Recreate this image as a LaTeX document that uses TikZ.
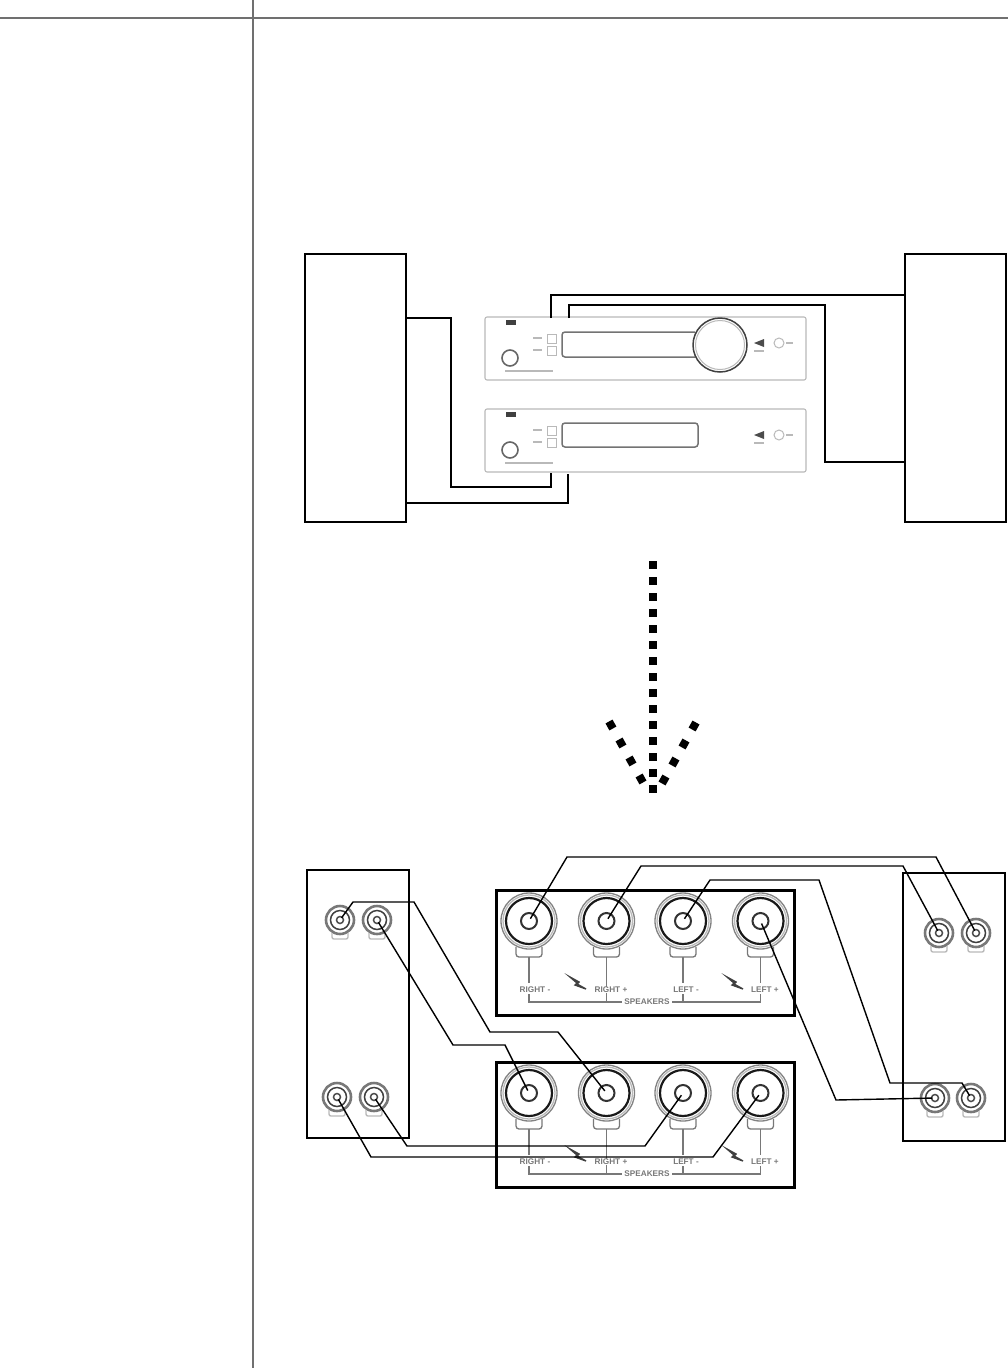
\documentclass[tikz,border=0pt]{standalone}
\usepackage{fontspec}
\setmainfont{Liberation Sans}
\usepackage{xcolor}
\definecolor{frameGray}{RGB}{112, 112, 112}
\definecolor{panelGray}{RGB}{185, 185, 185}
\definecolor{markGray}{RGB}{120, 120, 120}
\tikzset{
  wire/.style={draw=black, line width=1.4pt, line join=miter},
  devbox/.style={draw=black, line width=1.8pt},
  termbox/.style={draw=black, line width=3.6pt},
  rulerline/.style={draw=frameGray, line width=2pt},
  dotline/.style={draw=black, line width=8pt},
  hole/.style={circle, inner sep=0pt, minimum size=5pt},
  marktext/.style={font=\bfseries\fontsize{8.2}{9}\selectfont, text=markGray, inner sep=0.5pt},
  strip/.style={draw=panelGray, line width=1.6pt},
  bigjack/.pic={
    \draw[panelGray!70!black, line width=1.3pt] (0,0) circle[radius=28];
    \draw[panelGray, line width=1.3pt] (0,0) circle[radius=26];
    \draw[black!90, line width=2.2pt] (0,0) circle[radius=23];
    \draw[black!80, line width=2pt] (0,0) circle[radius=8];
    \draw[markGray, line width=1.3pt, rounded corners=3pt] (-13,26) -- (-13,36) -- (13,36) -- (13,26);
    \node[hole] (-c) at (0,0) {};
  },
  smalljack/.pic={
    \draw[markGray, line width=2.6pt] (0,0) circle[radius=14];
    \draw[black!75, line width=1.5pt] (0,0) circle[radius=9.5];
    \draw[black!70, line width=1.5pt] (0,0) circle[radius=3.5];
    \draw[panelGray, line width=1.4pt, rounded corners=2pt] (-8,13) -- (-8,19) -- (8,19) -- (8,13);
    \node[hole] (-c) at (0,0) {};
  },
  bolt/.pic={
    \draw[black!75, line width=1.4pt, fill=black!75] (-8,-6) -- (1,-1) -- (-1,1) -- (8,6) -- (-3,2) -- (-1,0) -- cycle;
  },
  terminals/.pic={
    \pic (-ra) at (529,0) {bigjack};
    \pic (-rb) at (606.5,0) {bigjack};
    \pic (-la) at (683,0) {bigjack};
    \pic (-lb) at (760.5,0) {bigjack};
    \draw[markGray, line width=1.3pt] (529,36) -- (529,62) (606.5,36) -- (606.5,81) (683,36) -- (683,62) (760.5,36) -- (760.5,62);
    \draw[markGray, line width=1.3pt] (529,73) -- (529,81) -- (760.5,81) -- (760.5,73) (683,81) -- (683,73);
    \node[marktext] (-tra) at (535,69) {RIGHT -};
    \node[marktext, fill=white] (-trb) at (611,69) {RIGHT +};
    \node[marktext] (-tla) at (686,69) {LEFT -};
    \node[marktext] (-tlb) at (765,69) {LEFT +};
    \node[marktext, fill=white, inner xsep=2pt] (-spk) at (647,81) {SPEAKERS};
    \pic at (578,62) {bolt};
    \pic at (735,62) {bolt};
  },
  ampface/.pic={
    \draw[panelGray, line width=1.1pt, rounded corners=2pt] (485,0) rectangle (806,63);
    \draw[black!60, line width=1.6pt] (510,41) circle[radius=8];
    \fill[black!75] (506,3) rectangle (516,8);
    \draw[strip] (505,54) -- (553,54);
    \draw[strip] (533,21) -- (542,21) (533,33) -- (542,33);
    \draw[panelGray, line width=1pt] (547,17) rectangle (556,26) (547,29) rectangle (556,38);
    \fill[black!70] (754,26) -- (764,22) -- (764,30) -- cycle;
    \draw[panelGray, line width=1pt] (779,26) circle[radius=5];
    \draw[strip] (786,26) -- (793,26) (754,34) -- (764,34);
  }
}
\begin{document}
\begin{tikzpicture}[x=1pt, y=-1pt]
  \useasboundingbox (0,0) rectangle (1008,1368);
  % page rules
  \draw[rulerline] (0,18) -- (1008,18);
  \draw[rulerline] (253,0) -- (253,1368);

  % upper drawing
  \pic (ampa) at (0,317) {ampface};
  \pic (ampb) at (0,409) {ampface};
  \draw[black!55, line width=1.5pt, rounded corners=3pt] (695,332) -- (562,332) -- (562,357) -- (695,357);
  \draw[black!55, line width=1.5pt, rounded corners=3pt] (562,423) rectangle (698,447);
  \draw[black!75, line width=1.5pt, fill=white] (720,345) circle[radius=27];
  \draw[panelGray, line width=1pt] (720,345) circle[radius=24.5];
  \node[devbox, minimum width=101pt, minimum height=268pt, inner sep=0pt] (spkl) at (355.5,388) {};
  \node[devbox, minimum width=101pt, minimum height=268pt, inner sep=0pt] (spkr) at (955.5,388) {};
  \coordinate (aa) at (551,318);
  \coordinate (ab) at (569,318);
  \coordinate (ba) at (551,473);
  \coordinate (bb) at (568,474);
  \draw[wire] (aa) -- (551,295) -- (spkr.west |- 0,295);
  \draw[wire] (ab) -- (569,305) -- (825,305) -- (825,462) -- (spkr.west |- 0,462);
  \draw[wire] (spkl.east |- 0,318) -- (451,318) -- (451,487) -- (551,487) -- (ba);
  \draw[wire] (spkl.east |- 0,503) -- (568,503) -- (bb);

  % dotted arrow
  \coordinate (arrtop) at (653,561);
  \coordinate (arrtip) at (653,793);
  \coordinate (arrla) at (609,721.5);
  \coordinate (arrlb) at (643,782.5);
  \coordinate (arrra) at (696,722.5);
  \coordinate (arrrb) at (662,783.5);
  \draw[dotline, dash pattern=on 8pt off 8pt] (arrtop) -- (arrtip);
  \draw[dotline, dash pattern=on 8pt off 12.6pt] (arrla) -- (arrlb);
  \draw[dotline, dash pattern=on 8pt off 12.6pt] (arrra) -- (arrrb);

  % lower drawing
  \node[devbox, minimum width=102pt, minimum height=268pt, inner sep=0pt] (boxl) at (358,1004) {};
  \node[devbox, minimum width=102pt, minimum height=268pt, inner sep=0pt] (boxr) at (954,1007) {};
  \node[termbox, minimum width=298pt, minimum height=125pt, inner sep=0pt] (terma) at (645.5,953) {};
  \node[termbox, minimum width=298pt, minimum height=125pt, inner sep=0pt] (termb) at (645.5,1125) {};
  \pic (ta) at (0,921) {terminals};
  \pic (tb) at (0,1093) {terminals};
  \pic (lua) at (340,920) {smalljack};
  \pic (lub) at (377,920) {smalljack};
  \pic (lda) at (337,1097) {smalljack};
  \pic (ldb) at (374,1097) {smalljack};
  \pic (rua) at (939,933) {smalljack};
  \pic (rub) at (976,933) {smalljack};
  \pic (rda) at (935,1098) {smalljack};
  \pic (rdb) at (971,1098) {smalljack};
  \draw[wire] (ta-ra-c) -- (567,857) -- (936,857) -- (rub-c);
  \draw[wire] (ta-rb-c) -- (641,866) -- (903,866) -- (rua-c);
  \draw[wire] (ta-la-c) -- (710,880) -- (819,880) -- (890,1083) -- (962,1083) -- (rdb-c);
  \draw[wire] (ta-lb-c) -- (836,1100) -- (rda-c);
  \draw[wire] (lua-c) -- (353,902) -- (414,902) -- (490,1032) -- (558,1032) -- (tb-rb-c);
  \draw[wire] (lub-c) -- (453,1045) -- (505,1045) -- (tb-ra-c);
  \draw[wire] (ldb-c) -- (407,1146) -- (645,1146) -- (tb-la-c);
  \draw[wire] (lda-c) -- (371,1157) -- (713,1157) -- (tb-lb-c);
\end{tikzpicture}
\end{document}
